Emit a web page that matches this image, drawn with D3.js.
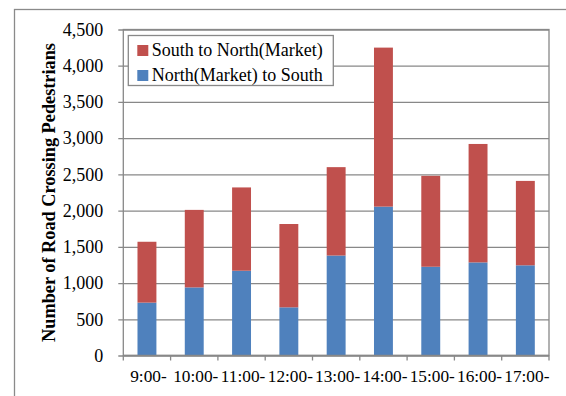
<!DOCTYPE html>
<html>
<head>
<meta charset="utf-8">
<script src="https://cdn.jsdelivr.net/npm/d3@7"></script>
<style>
  body { margin: 0; background: #fff; }
  svg text { font-family: "Liberation Serif", "Times New Roman", serif; fill: #000; }
</style>
</head>
<body>
<div id="chart"></div>
<script>
// data
const hours = ["9:00-", "10:00-", "11:00-", "12:00-", "13:00-", "14:00-", "15:00-", "16:00-", "17:00-"];
const northToSouth = [730, 940, 1170, 665, 1380, 2055, 1225, 1285, 1245];
const southToNorth = [840, 1070, 1150, 1150, 1220, 2195, 1255, 1635, 1165];
const yTicks = [0, 500, 1000, 1500, 2000, 2500, 3000, 3500, 4000, 4500];
const seriesNames = ["South to North(Market)", "North(Market) to South"];

const width = 566, height = 396;
const margin = { top: 29.5, right: 17, bottom: 40.5, left: 123.3 };
const innerW = width - margin.left - margin.right;
const innerH = height - margin.top - margin.bottom;

const svg = d3.select("#chart").append("svg")
  .attr("width", width).attr("height", height);

// outer chart frame
svg.append("rect")
  .attr("x", 14.5).attr("y", 9.5)
  .attr("width", width + 10).attr("height", height + 10)
  .attr("fill", "none").attr("stroke", "#8a8a8a").attr("stroke-width", 1.3);

const g = svg.append("g").attr("transform", `translate(${margin.left}, ${margin.top})`);

const x = d3.scaleBand().domain(hours).range([0, innerW]).paddingInner(0.6).paddingOuter(0.3);
const xTicks = d3.scaleBand().domain(hours).range([0, innerW]);
const y = d3.scaleLinear().domain([0, 4500]).range([innerH, 0]);

// gridlines + y ticks
g.append("g")
  .call(d3.axisLeft(y).tickValues(yTicks).tickSize(-innerW - 5).tickFormat(d3.format(",")))
  .call(a => a.select(".domain").remove())
  .call(a => a.selectAll(".tick line").attr("x1", -5).attr("x2", innerW).attr("stroke", "#888").attr("stroke-width", 1.3))
  .call(a => a.selectAll(".tick text").attr("x", -20).attr("font-size", "18px"));

// plot border
g.append("rect")
  .attr("width", innerW).attr("height", innerH)
  .attr("fill", "none").attr("stroke", "#888").attr("stroke-width", 1.3);

// stacked bars
const stackData = hours.map((h, i) => ({ hour: h, ns: northToSouth[i], sn: southToNorth[i] }));
const stacked = d3.stack().keys(["ns", "sn"])(stackData);
const color = { ns: "#4F81BD", sn: "#C0504D" };

g.selectAll(".series")
  .data(stacked)
  .enter()
  .append("g")
  .attr("fill", d => color[d.key])
  .selectAll("rect")
  .data(d => d)
  .enter()
  .append("rect")
  .attr("x", d => x(d.data.hour))
  .attr("width", x.bandwidth())
  .attr("y", d => y(d[1]))
  .attr("height", d => y(d[0]) - y(d[1]));

// x axis
const xAxis = g.append("g")
  .attr("transform", `translate(0, ${innerH})`);
xAxis.append("line")
  .attr("x1", 0).attr("x2", innerW)
  .attr("stroke", "#888").attr("stroke-width", 1.3);
xAxis.selectAll(".xtick")
  .data(hours.concat(["end"]))
  .enter()
  .append("line")
  .attr("x1", (d, i) => i * xTicks.step())
  .attr("x2", (d, i) => i * xTicks.step())
  .attr("y1", 0).attr("y2", 5)
  .attr("stroke", "#888").attr("stroke-width", 1.3);
xAxis.selectAll(".xlabel")
  .data(hours)
  .enter()
  .append("text")
  .attr("x", d => xTicks(d) + xTicks.bandwidth() / 2 + 1.5)
  .attr("y", 26)
  .attr("text-anchor", "middle")
  .attr("font-size", "17.3px")
  .text(d => d);

// y axis title
svg.append("text")
  .attr("transform", `translate(54.5, ${margin.top + innerH / 2}) rotate(-90)`)
  .attr("text-anchor", "middle")
  .attr("font-size", "18.3px")
  .attr("font-weight", "bold")
  .text("Number of Road Crossing Pedestrians");

// legend
const legend = g.append("g").attr("transform", "translate(5, 6)");
legend.append("rect")
  .attr("width", 205).attr("height", 50)
  .attr("fill", "#fff").attr("stroke", "#888").attr("stroke-width", 1.3);
const legendColors = [color.sn, color.ns];
seriesNames.forEach((name, i) => {
  legend.append("rect")
    .attr("x", 9).attr("y", 9.5 + i * 25)
    .attr("width", 11).attr("height", 11)
    .attr("fill", legendColors[i]);
  legend.append("text")
    .attr("x", 23.5).attr("y", 20.5 + i * 25)
    .attr("font-size", "18px")
    .text(name);
});
</script>
</body>
</html>
